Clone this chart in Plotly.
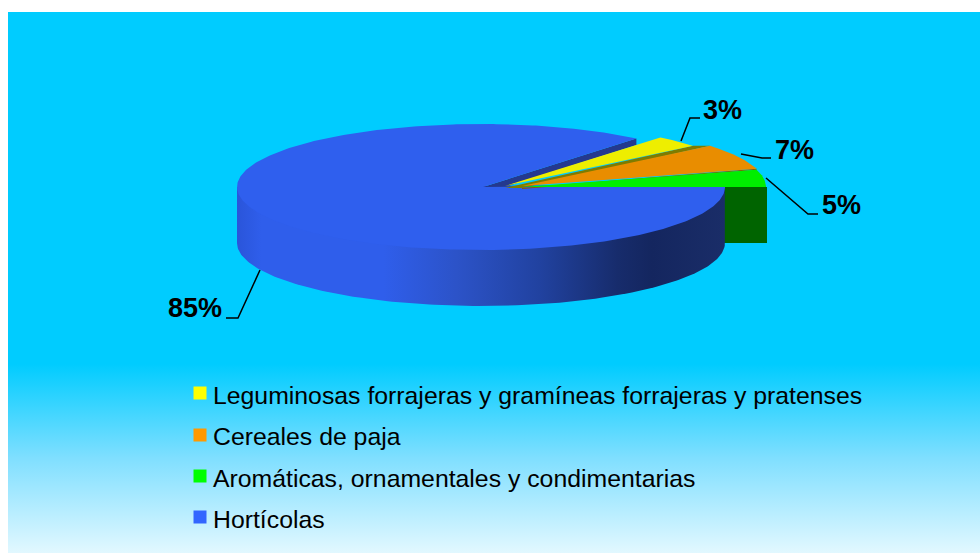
import numpy as np
import plotly.graph_objects as go

# ---- data (drawing order: counter-clockwise from the right-hand side)
categories = ["Aromáticas, ornamentales y condimentarias", "Cereales de paja",
              "Leguminosas forrajeras y gramíneas forrajeras y pratenses", "Hortícolas"]
percent = [5, 7, 3, 85]
legend_order = [2, 1, 0, 3]
percent_labels = ["5%", "7%", "3%", "85%"]

# ---- styles / geometry
W, H = 980, 553
CX, CY, RX, RY, DEPTH = 481, 187, 244, 63, 56
FORESHORTEN = 0.88
top_colors = ["#00EE00", "#E98D00", "#EEEE00", "#2F5FEE"]
key_colors = ["#00FF00", "#FF9900", "#FFFF00", "#3366FF"]
apexes = [(522, 187), (522, 186), (505, 186), (483, 187)]
FONT = "Liberation Sans, Arial, sans-serif"

cum = np.concatenate([[0], np.cumsum(percent)]) / np.sum(percent) * 360


def warp(deg):
    r = np.radians(deg)
    return np.degrees(np.arctan2(FORESHORTEN * np.sin(r), np.cos(r))) % 360


def arc(a0, a1, ox, oy, n=160):
    t = np.radians(np.linspace(a0, a1, n))
    return ox + RX * np.cos(t), oy - RY * np.sin(t)


fig = go.Figure()


def poly(x, y, color=None, grad=None):
    kw = dict(fillgradient=grad) if grad else dict(fillcolor=color)
    fig.add_trace(go.Scatter(x=list(x), y=list(y), mode="lines", fill="toself",
                             line=dict(width=0), hoverinfo="skip", showlegend=False, **kw))


def line(x, y, color="#000000", width=1.5):
    fig.add_trace(go.Scatter(x=x, y=y, mode="lines", line=dict(color=color, width=width),
                             hoverinfo="skip", showlegend=False))


# background panel
poly([8, W, W, 8, 8], [12, 12, 364, 364, 12], "#00CCFF")
poly([8, W, W, 8, 8], [364, 364, H, H, 364],
     grad=dict(type="vertical", start=364, stop=H,
               colorscale=[[0, "#00CCFF"], [0.5, "#80DFFF"], [1, "#E2F8FF"]]))

a = [warp(v) for v in cum[:-1]] + [360.0]
blue_start, blue_end = a[3], 362.0

# green wall behind the blue body
gx, gy = apexes[0]
gx_r = gx + RX + 1
poly([gx, gx_r, gx_r, gx], [gy, gy, gy + 56, gy + 56], "#006400")

# blue body wall: a straight chord on top, hidden under the top face, so no seam shows
ex, ey = arc(blue_end, blue_end, CX, CY, 1)
wx, wy = arc(180, 180, CX, CY, 1)
bx, by = arc(blue_end, 180, CX, CY + DEPTH)
poly(np.r_[wx, ex, bx], np.r_[wy, ey, by],
     grad=dict(type="horizontal", start=237, stop=725,
               colorscale=[[0, "#2A55DA"], [0.05, "#2F5EEB"], [0.3, "#2F5EEB"], [0.45, "#2C53C8"],
                           [0.62, "#2142A0"], [0.78, "#172C6C"], [0.85, "#14265F"], [1, "#1A2D68"]]))

# inner dark wall of the blue slice: fills the gap up to the yellow edge
ax_, ay_ = arc(blue_start, blue_start, CX, CY, 1)
yx0, yy0 = apexes[2]
yx1, yy1 = arc(a[3], a[3], yx0, yy0, 1)
edge_y = yy0 + (yy1[0] - yy0) * (ax_[0] - yx0) / (yx1[0] - yx0)
poly([apexes[3][0], ax_[0], ax_[0], yx0], [apexes[3][1], ay_[0], edge_y, yy0 + 1], "#24398F")

# blue top
ax, ay = arc(blue_start, blue_end, CX, CY, 400)
poly(np.r_[apexes[3][0], ax], np.r_[apexes[3][1], ay], top_colors[3])

# walls filling the gaps between the pulled-out slices
walls = {2: "#7E7C00", 1: "#8A5A00"}
for i, wall in walls.items():
    ox, oy = apexes[i]
    px, py = apexes[i - 1]
    sx, sy = arc(a[i], a[i], ox, oy, 1)
    ux, uy = arc(a[i], a[i], px, py, 1)
    poly([ox, sx[0], ux[0], px], [oy + 2, sy[0], uy[0], py + 2], wall)

# small slice tops: back to front
for i in [2, 1, 0]:
    ox, oy = apexes[i]
    sx, sy = arc(a[i], a[i + 1], ox, oy, 40)
    poly(np.r_[ox, sx], np.r_[oy, sy], top_colors[i])

# leader lines
leaders = {
    2: ([681, 690, 700], [141, 118, 118]),
    1: ([741, 762, 771], [154, 158, 158]),
    0: ([766, 808, 818], [178, 214, 214]),
    3: ([260, 238, 226], [270, 318, 318]),
}
label_pos = {2: (722, 110), 1: (794, 150), 0: (841, 205), 3: (195, 308)}
for i, (lx, ly) in leaders.items():
    line(lx, ly)
    fig.add_annotation(x=label_pos[i][0], y=label_pos[i][1], text=percent_labels[i], showarrow=False,
                       font=dict(family=FONT, size=27, color="#000000", weight="bold"),
                       xanchor="center", yanchor="middle")

# legend
key_y = [393, 435, 476, 517]
text_y = [395, 436, 478, 519]
for row, i in enumerate(legend_order):
    fig.add_trace(go.Scatter(x=[200], y=[key_y[row]], mode="markers",
                             marker=dict(symbol="square", size=13, color=key_colors[i], line=dict(width=0)),
                             hoverinfo="skip", showlegend=False))
    fig.add_annotation(x=211, y=text_y[row], text=categories[i], showarrow=False, xanchor="left",
                       yanchor="middle", font=dict(family=FONT, size=24.8, color="#000000"))

fig.update_layout(width=W, height=H, margin=dict(l=0, r=0, t=0, b=0, pad=0),
                  paper_bgcolor="#FFFFFF", plot_bgcolor="#FFFFFF", showlegend=False,
                  xaxis=dict(range=[0, W], visible=False, fixedrange=True),
                  yaxis=dict(range=[H, 0], visible=False, fixedrange=True))
fig.write_html("out.html", config=dict(displayModeBar=False),
               post_script="document.body.style.margin='0';document.body.style.overflow='hidden';")
